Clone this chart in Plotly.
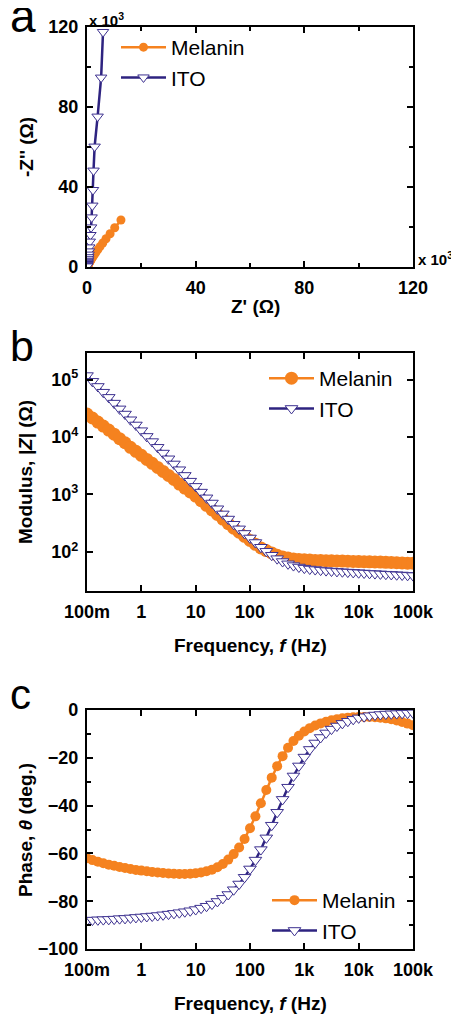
import plotly.graph_objects as go

# ---------------- data ----------------
# Panel a: Nyquist plot (units of 10^3 ohm)
nyq_mel_zre = [12.5, 10.2, 8.5, 7.0, 5.8, 4.8, 4.0, 3.3, 2.75, 2.3, 1.9, 1.6, 1.35, 1.12, 0.95,
               0.8, 0.68, 0.57, 0.48, 0.41, 0.35, 0.29, 0.24, 0.2, 0.16, 0.12, 0.09, 0.07]
nyq_mel_zim = [23.5, 19.6, 16.6, 14.1, 12.0, 10.2, 8.7, 7.4, 6.3, 5.4, 4.6, 3.9, 3.3, 2.8, 2.4,
               2.0, 1.7, 1.45, 1.22, 1.03, 0.87, 0.72, 0.58, 0.45, 0.33, 0.22, 0.12, 0.05]
nyq_ito_zre = [5.9, 5.2, 3.9, 2.8, 2.4, 2.2, 1.95, 1.7, 1.5, 1.25, 1.0, 0.82, 0.68, 0.56, 0.46,
               0.37, 0.30, 0.24, 0.19, 0.15, 0.12, 0.09, 0.07, 0.05]
nyq_ito_zim = [117.5, 94.7, 75.2, 60.2, 48.2, 38.5, 30.7, 24.8, 19.8, 16.0, 12.7, 9.8, 7.8, 6.2, 4.9,
               3.9, 3.1, 2.4, 1.9, 1.5, 1.2, 0.9, 0.6, 0.3]

# Panels b, c: frequency (Hz)
freq = [0.1, 0.1259, 0.1585, 0.1995, 0.2512, 0.3162, 0.3981, 0.5012, 0.631, 0.7943,
        1.0, 1.259, 1.585, 1.995, 2.512, 3.162, 3.981, 5.012, 6.31, 7.943,
        10.0, 12.59, 15.85, 19.95, 25.12, 31.62, 39.81, 50.12, 63.1, 79.43,
        100.0, 125.9, 158.5, 199.5, 251.2, 316.2, 398.1, 501.2, 631.0, 794.3,
        1000.0, 1259, 1585, 1995, 2512, 3162, 3981, 5012, 6310, 7943,
        10000.0, 12590, 15850, 19950, 25120, 31620, 39810, 50120, 63100, 79430,
        100000.0]

# Modulus |Z| (ohm)
mod_mel = [25100, 21400, 18200, 15500, 13200, 11200, 9330, 7940, 6610, 5620,
           4790, 4070, 3470, 2950, 2510, 2140, 1820, 1510, 1290, 1100,
           933, 776, 646, 537, 447, 372, 309, 257, 219, 186,
           158, 135, 117, 105, 95.5, 87.1, 81.3, 77.6, 75.0, 73.3,
           72.4, 71.6, 70.8, 70.5, 70.0, 69.5, 69.2, 68.9, 68.4, 67.9,
           67.6, 67.3, 66.8, 66.4, 66.1, 65.6, 65.2, 64.6, 64.0, 63.4,
           63.1]
mod_ito = [117500, 93300, 75900, 60300, 49000, 38900, 30900, 25100, 19950, 16200,
           12880, 10230, 8320, 6610, 5250, 4170, 3390, 2690, 2140, 1700,
           1380, 1096, 871, 708, 562, 457, 372, 302, 251, 209,
           174, 145, 120, 102, 87.1, 75.9, 67.6, 61.7, 57.5, 54.3,
           51.9, 50.1, 49.0, 47.9, 47.0, 46.2, 45.5, 44.9, 44.3, 43.7,
           43.2, 42.7, 42.2, 41.7, 41.2, 40.7, 40.3, 39.8, 39.4, 38.9,
           38.5]

# Phase (deg.)
ph_mel = [-62.0, -62.8, -63.5, -64.1, -64.7, -65.2, -65.7, -66.1, -66.5, -66.9,
          -67.2, -67.5, -67.8, -68.0, -68.2, -68.4, -68.5, -68.6, -68.6, -68.5,
          -68.3, -68.0, -67.5, -66.8, -65.8, -64.4, -62.6, -60.3, -57.5, -54.0,
          -49.5, -44.5, -39.0, -33.5, -28.3, -23.5, -19.3, -15.8, -13.0, -10.8,
          -9.0, -7.6, -6.5, -5.6, -4.9, -4.3, -3.9, -3.5, -3.2, -3.0,
          -2.9, -2.9, -2.9, -3.0, -3.2, -3.5, -3.9, -4.4, -5.0, -5.7,
          -6.4]
ph_ito = [-88.0, -87.9, -87.8, -87.7, -87.6, -87.5, -87.3, -87.2, -87.0, -86.8,
          -86.6, -86.4, -86.2, -86.0, -85.7, -85.4, -85.1, -84.8, -84.4, -84.0,
          -83.5, -82.9, -82.1, -81.2, -80.1, -78.8, -77.2, -75.2, -72.8, -70.0,
          -66.5, -62.8, -58.4, -53.5, -48.2, -42.8, -37.4, -32.3, -27.6, -23.4,
          -19.7, -16.5, -13.8, -11.5, -9.6, -8.0, -6.7, -5.6, -4.7, -3.9,
          -3.3, -2.8, -2.4, -2.1, -1.9, -1.7, -1.6, -1.5, -1.4, -1.3,
          -1.2]

freq_tickvals = [0.1, 1, 10, 100, 1000, 10000, 100000]
freq_ticktext = ["100m", "1", "10", "100", "1k", "10k", "100k"]
nyq_ticks = [0, 40, 80, 120]
mod_tickvals = [100, 1000, 10000, 100000]
mod_ticktext = ["10<sup>2</sup>", "10<sup>3</sup>", "10<sup>4</sup>", "10<sup>5</sup>"]
phase_ticks = [0, -20, -40, -60, -80, -100]

# ---------------- style ----------------
# the page body adds an 8 px margin, so the figure is sized to fill the rest of the window
OFF = 8
W, H = 459 - OFF, 1020 - OFF
FONT = "Liberation Sans"
ORANGE = "#F5821F"
INDIGO = "#2E2380"
TRI_EDGE = "#3D3190"


def px(x):
    return (x - OFF) / W


def py(y):
    return 1 - (y - OFF) / H


xdom = [px(87), px(413)]
ydom_a = [py(267), py(27)]
ydom_b = [py(591), py(353)]
ydom_c = [py(949), py(710)]

axis_common = dict(
    showline=True, linecolor="black", linewidth=2.2, mirror="allticks",
    ticks="inside", ticklen=6, tickwidth=2, tickcolor="black",
    showgrid=False, zeroline=False, ticklabelstandoff=3, automargin=False,
    tickfont=dict(family=FONT, size=18, color="black", weight="bold"),
)

mel_line = dict(color=ORANGE, width=2.5)
mel_marker_a = dict(symbol="circle", size=9, color=ORANGE, line=dict(width=0))
mel_marker_b = dict(symbol="circle", size=13, color=ORANGE, line=dict(width=0))
mel_marker_c = dict(symbol="circle", size=10, color=ORANGE, line=dict(width=0))
ito_line = dict(color=INDIGO, width=2.5)
ito_marker_a = dict(symbol="triangle-down", size=10, color="white",
                    line=dict(color=TRI_EDGE, width=1))
ito_marker_bc = dict(symbol="triangle-down", size=11, color="white",
                     line=dict(color=TRI_EDGE, width=1))

fig = go.Figure()

# Panel a
fig.add_trace(go.Scatter(x=nyq_mel_zre, y=nyq_mel_zim, mode="lines+markers", name="Melanin",
                         line=mel_line, marker=mel_marker_a, xaxis="x", yaxis="y", legend="legend"))
fig.add_trace(go.Scatter(x=nyq_ito_zre, y=nyq_ito_zim, mode="lines+markers", name="ITO",
                         line=ito_line, marker=ito_marker_a, xaxis="x", yaxis="y", legend="legend"))
# Panel b
fig.add_trace(go.Scatter(x=freq, y=mod_mel, mode="lines+markers", name="Melanin",
                         line=mel_line, marker=mel_marker_b, xaxis="x2", yaxis="y2", legend="legend2"))
fig.add_trace(go.Scatter(x=freq, y=mod_ito, mode="lines+markers", name="ITO",
                         line=ito_line, marker=ito_marker_bc, xaxis="x2", yaxis="y2", legend="legend2"))
# Panel c
fig.add_trace(go.Scatter(x=freq, y=ph_mel, mode="lines+markers", name="Melanin",
                         line=mel_line, marker=mel_marker_c, xaxis="x3", yaxis="y3", legend="legend3"))
fig.add_trace(go.Scatter(x=freq, y=ph_ito, mode="lines+markers", name="ITO",
                         line=ito_line, marker=ito_marker_bc, xaxis="x3", yaxis="y3", legend="legend3"))

minor_a = dict(ticks="inside", ticklen=4, tickwidth=2, tickcolor="black", dtick=20, showgrid=False)
minor_c = dict(ticks="inside", ticklen=4, tickwidth=2, tickcolor="black", dtick=10, showgrid=False)

legend_common = dict(font=dict(family=FONT, size=21, color="black"), bgcolor="rgba(0,0,0,0)",
                     xanchor="left", yanchor="top", tracegroupgap=0, itemwidth=45)

fig.update_layout(
    template="none",
    width=W, height=H, autosize=False,
    margin=dict(l=0, r=0, t=0, b=0, pad=0),
    paper_bgcolor="white", plot_bgcolor="white",
    font=dict(family=FONT, color="black"),
    xaxis=dict(domain=xdom, anchor="y", range=[0, 120], tickvals=nyq_ticks, minor=minor_a, **axis_common),
    yaxis=dict(domain=ydom_a, anchor="x", range=[0, 120], tickvals=nyq_ticks, minor=minor_a, **axis_common),
    xaxis2=dict(domain=xdom, anchor="y2", type="log", range=[-1, 5],
                tickvals=freq_tickvals, ticktext=freq_ticktext, **axis_common),
    yaxis2=dict(domain=ydom_b, anchor="x2", type="log", range=[1.317, 5.463],
                tickvals=mod_tickvals, ticktext=mod_ticktext, **axis_common),
    xaxis3=dict(domain=xdom, anchor="y3", type="log", range=[-1, 5],
                tickvals=freq_tickvals, ticktext=freq_ticktext, **axis_common),
    yaxis3=dict(domain=ydom_c, anchor="x3", range=[-100, 0], tickvals=phase_ticks,
                minor=minor_c, **axis_common),
    legend=dict(x=px(116), y=py(27), **legend_common),
    legend2=dict(x=px(264), y=py(358), **legend_common),
    legend3=dict(x=px(267), y=py(880), **legend_common),
)

ann = []


def add_text(text, x, y, size=19, angle=0, xanchor="center", yanchor="middle", weight="bold"):
    ann.append(dict(text=text, x=px(x), y=py(y), xref="paper", yref="paper", showarrow=False,
                    xanchor=xanchor, yanchor=yanchor, textangle=angle,
                    font=dict(family=FONT, size=size, color="black", weight=weight)))


# panel letters
add_text("a", 8, 16, size=46, xanchor="left", weight="normal")
add_text("b", 8, 346, size=43, xanchor="left", weight="normal")
add_text("c", 8, 694, size=42, xanchor="left", weight="normal")

# axis titles
add_text("Z' (Ω)", 255, 307)
add_text("-Z'' (Ω)", 27, 147, angle=-90)
add_text("Frequency, <i>f</i> (Hz)", 250, 645)
add_text("Modulus, <i>|Z|</i> (Ω)", 25, 472, angle=-90)
add_text("Frequency, <i>f</i> (Hz)", 250, 1003)
add_text("Phase, <i>θ</i> (deg.)", 25, 830, angle=-90)

# multipliers
add_text("x 10<sup>3</sup>", 87, 8, size=15, xanchor="left", yanchor="top")
add_text("x 10<sup>3</sup>", 416, 258, size=15, xanchor="left")

fig.update_layout(annotations=ann)

fig.write_html("out.html")
